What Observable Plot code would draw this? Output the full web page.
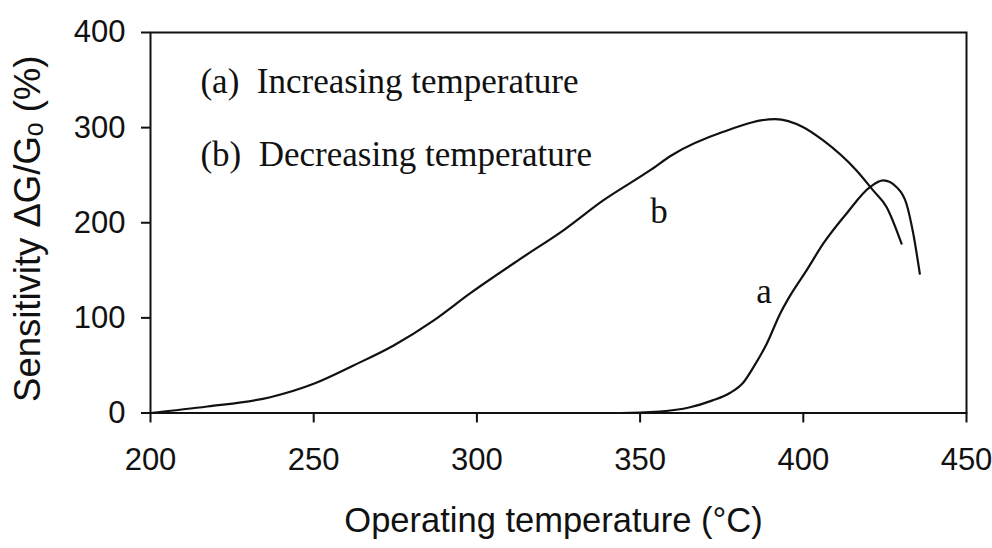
<!DOCTYPE html>
<html><head><meta charset="utf-8">
<script src="https://cdn.jsdelivr.net/npm/d3@7"></script>
<script src="https://cdn.jsdelivr.net/npm/@observablehq/plot@0.6"></script>
<style>
html,body{margin:0;padding:0;background:#fff;}
#chart svg{display:block;}
</style></head><body><div id="chart"></div>
<script>
// Curve (a): increasing temperature
const tempA = [200, 250, 300, 344, 356, 365.3, 372, 377.5, 381.7, 384.7, 388.8, 392.9, 396, 401, 406.1, 413.2, 420.4, 424.5, 428.6, 431.6, 433.7, 435.7];
const sensA = [0, 0, 0, 0, 1.5, 6, 13, 21, 32.4, 48, 72.8, 104.3, 123.6, 150, 178, 209.5, 237.4, 244.5, 237.4, 220, 188.4, 146.4];
// Curve (b): decreasing temperature
const tempB = [200, 217.4, 236.7, 250, 262.2, 274.5, 286.8, 298, 313.3, 326.5, 338.8, 353, 359.7, 375.5, 391.4, 400, 406.1, 416.3, 421.4, 425.5, 430.1];
const sensB = [0, 6.8, 16.6, 30.7, 50, 71, 97.4, 126, 162, 192, 223.7, 255, 271, 295.6, 309, 300.5, 286.6, 255, 234, 216.6, 178];

const xTicks = [200, 250, 300, 350, 400, 450];
const yTicks = [0, 100, 200, 300, 400];

const legendText = ["(a)\u2002Increasing temperature", "(b)\u2002Decreasing temperature"];
const legendX = [215.3, 215.3];
const legendY = [348.6, 271.8];

const curveNames = ["b", "a"];
const curveNameX = [355.8, 388];
const curveNameY = [212, 127];

const xTitle = "Operating temperature (°C)";
const yTitle = "Sensitivity ΔG/Gₒ (%)";

const rowsA = tempA.map((t, i) => ({t, s: sensA[i]}));
const rowsB = tempB.map((t, i) => ({t, s: sensB[i]}));
const legendRows = legendText.map((txt, i) => ({txt, x: legendX[i], y: legendY[i]}));
const nameRows = curveNames.map((txt, i) => ({txt, x: curveNameX[i], y: curveNameY[i]}));

const ink = "#111";
const serif = "'Liberation Serif', 'Times New Roman', serif";

const chart = Plot.plot({
  width: 992,
  height: 548,
  marginLeft: 150,
  marginRight: 26,
  marginTop: 32,
  marginBottom: 135.5,
  style: {fontFamily: "'Liberation Sans', Arial, sans-serif", background: "#fff", color: ink},
  x: {domain: [200, 450], label: null},
  y: {domain: [0, 400], label: null},
  marks: [
    Plot.frame({stroke: ink, strokeWidth: 2}),
    Plot.axisX({ticks: xTicks, tickSize: 10, tickPadding: 25, fontSize: 31, strokeWidth: 2, label: null, fill: ink}),
    Plot.axisY({ticks: yTicks, tickSize: 9, tickPadding: 16, fontSize: 31, strokeWidth: 2, label: null, fill: ink}),
    Plot.line(rowsB, {x: "t", y: "s", curve: "monotone-x", stroke: ink, strokeWidth: 2.2}),
    Plot.line(rowsA, {x: "t", y: "s", curve: "monotone-x", stroke: ink, strokeWidth: 2.2}),
    Plot.text(legendRows, {x: "x", y: "y", text: "txt", textAnchor: "start", fontSize: 35, fontFamily: serif, fill: ink}),
    Plot.text(nameRows, {x: "x", y: "y", text: "txt", fontSize: 35, fontFamily: serif, fill: ink}),
    Plot.text([xTitle], {frameAnchor: "bottom", textAnchor: "middle", lineAnchor: "middle", text: d => d, dy: 108, dx: -5, fontSize: 34.5, fill: ink}),
    Plot.text([yTitle], {frameAnchor: "left", textAnchor: "middle", lineAnchor: "middle", text: d => d, rotate: -90, dx: -122, dy: 6, fontSize: 36.5, fill: ink})
  ]
});
document.getElementById("chart").append(chart);
</script>
</body></html>
